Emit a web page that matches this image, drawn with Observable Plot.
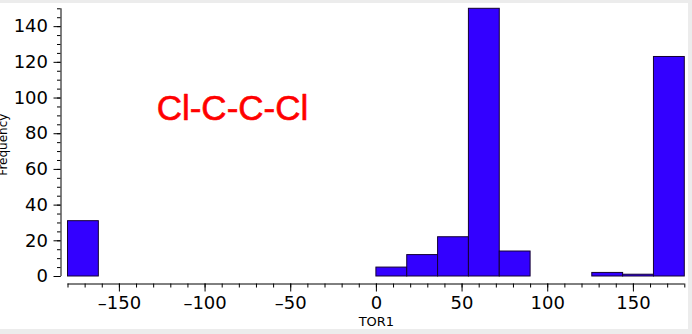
<!DOCTYPE html>
<html>
<head>
<meta charset="utf-8">
<script src="https://cdn.jsdelivr.net/npm/d3@7"></script>
<script src="https://cdn.jsdelivr.net/npm/@observablehq/plot@0.6"></script>
<style>
  html, body { margin: 0; padding: 0; background: #ececec; }
  #wrap { margin-top: 3px; width: 688px; height: 326px; background: #ffffff; overflow: hidden; }
</style>
</head>
<body>
<div id="wrap"></div>
<script>
// Histogram of TOR1 (18-degree bins)
const binLo  = [-180, 0, 18, 36, 54, 72, 126, 144, 162];
const binHi  = [-162, 18, 36, 54, 72, 90, 144, 162, 180];
const counts = [31, 5, 12, 22, 150, 14, 2, 1, 123];

const xMajorTicks = [-150, -100, -50, 0, 50, 100, 150];
const xMinorTicks = [-180, -170, -160, -150, -140, -130, -120, -110, -100, -90, -80, -70, -60, -50, -40, -30, -20, -10,
                     0, 10, 20, 30, 40, 50, 60, 70, 80, 90, 100, 110, 120, 130, 140, 150, 160, 170, 180];
const yMajorTicks = [0, 20, 40, 60, 80, 100, 120, 140];
const yMinorTicks = [0, 5, 10, 15, 20, 25, 30, 35, 40, 45, 50, 55, 60, 65, 70, 75, 80, 85, 90, 95,
                     100, 105, 110, 115, 120, 125, 130, 135, 140, 145, 150];

const xLabel = "TOR1";
const yLabel = "Frequency";
const annotation = ["Cl-C-C-Cl"];
const annotationX = [-84];
const annotationY = [94];

const bins = binLo.map((lo, i) => ({lo, hi: binHi[i], count: counts[i]}));
const fmt = d => d < 0 ? "\u2013" + (-d) : String(d);

const chart = Plot.plot({
  width: 688,
  height: 326,
  marginTop: 5.3,
  marginBottom: 53,
  marginLeft: 67.5,
  marginRight: 3.7,
  x: {domain: [-180, 180]},
  y: {domain: [0, 150]},
  style: {fontFamily: "DejaVu Sans", fontSize: "18px", color: "#000", background: "white", overflow: "visible"},
  marks: [
    Plot.rectY(bins, {x1: "lo", x2: "hi", y: "count", fill: "#3300ff", stroke: "#140033", strokeWidth: 1}),
    // x axis line and ticks (offset below the frame)
    Plot.ruleY([0], {x1: -180, x2: 180, dy: 7.5, stroke: "#000"}),
    Plot.axisX({ticks: xMinorTicks, tickSize: 4, tickFormat: () => "", dy: 7.5, label: null}),
    Plot.axisX({ticks: xMajorTicks, tickSize: 8, tickPadding: 4, tickFormat: fmt, dy: 7.5, label: null, fontSize: 18}),
    // y axis line and ticks (offset left of the frame)
    Plot.ruleX([-180], {y1: 0, y2: 150, dx: -7, stroke: "#000"}),
    Plot.axisY({ticks: yMinorTicks, tickSize: 3.5, tickFormat: () => "", dx: -7, label: null}),
    Plot.axisY({ticks: yMajorTicks, tickSize: 7, tickPadding: 6, tickFormat: fmt, dx: -7, label: null, fontSize: 18}),
    // axis titles
    Plot.text([xLabel], {frameAnchor: "bottom", dy: 49, fontSize: 13, fill: "#000"}),
    Plot.text([yLabel], {frameAnchor: "left", textAnchor: "middle", dx: -65, dy: 2, rotate: -90, fontSize: 12, fill: "#000"}),
    // annotation
    Plot.text(annotation, {x: annotationX, y: annotationY, text: d => d, fill: "#ff0000",
      stroke: "#ff0000", strokeWidth: 0.6, fontSize: 35, fontFamily: "Liberation Sans"})
  ]
});
document.getElementById("wrap").appendChild(chart);
</script>
</body>
</html>
